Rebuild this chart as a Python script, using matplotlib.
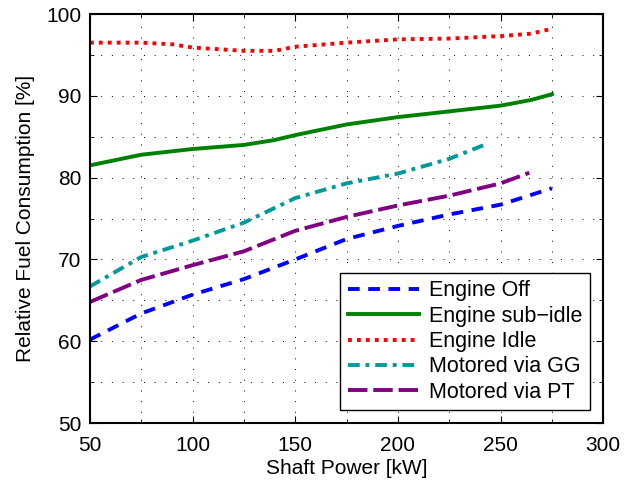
import matplotlib
matplotlib.use("Agg")
import matplotlib.pyplot as plt
from matplotlib.ticker import MultipleLocator

plt.rcParams["font.family"] = ["Liberation Sans", "DejaVu Sans"]

# ==========================================================
# Data
# ==========================================================

off_x = [50, 75, 100, 125, 150, 175, 200, 225, 250, 275]
off_y = [60.2, 63.4, 65.7, 67.6, 70.0, 72.5, 74.1, 75.5, 76.7, 78.7]

sub_x = [50, 75, 100, 125, 140, 150, 175, 200, 225, 250, 265, 275]
sub_y = [81.5, 82.8, 83.5, 84.0, 84.6, 85.2, 86.5, 87.4, 88.1, 88.8, 89.5, 90.2]

idle_x = [50, 75, 90, 100, 125, 140, 150, 175, 200, 225, 250, 265, 275]
idle_y = [96.5, 96.5, 96.3, 95.9, 95.5, 95.5, 96.0, 96.5, 96.9, 97.0, 97.3, 97.6, 98.2]

gg_x = [50, 75, 100, 125, 140, 150, 175, 200, 225, 242]
gg_y = [66.7, 70.3, 72.3, 74.5, 76.3, 77.5, 79.3, 80.5, 82.3, 84.0]

pt_x = [50, 75, 100, 125, 150, 175, 200, 225, 250, 264]
pt_y = [64.8, 67.5, 69.3, 71.0, 73.5, 75.2, 76.6, 77.8, 79.3, 80.6]

labels = ["Engine Off", "Engine sub\u2212idle", "Engine Idle",
          "Motored via GG", "Motored via PT"]

# ==========================================================
# Figure
# ==========================================================

fig = plt.figure(figsize=(6.33, 4.83), dpi=100)
ax = fig.add_axes([0.142, 0.124, 0.811, 0.847])

lw = 2.8
ax.plot(off_x, off_y, color="#0000ff", lw=lw, linestyle=(0, (3, 2.2)), label=labels[0])
ax.plot(sub_x, sub_y, color="#008000", lw=lw, linestyle="-", label=labels[1])
ax.plot(idle_x, idle_y, color="#ff0000", lw=lw, linestyle=(0, (1, 1.3)), label=labels[2])
ax.plot(gg_x, gg_y, color="#009999", lw=lw, linestyle=(0, (3, 1.5, 1, 1.5)), label=labels[3])
ax.plot(pt_x, pt_y, color="#800080", lw=lw, linestyle=(0, (5, 1.5)), label=labels[4])

ax.set_xlim(50, 300)
ax.set_ylim(50, 100)
ax.xaxis.set_major_locator(MultipleLocator(50))
ax.xaxis.set_minor_locator(MultipleLocator(25))
ax.yaxis.set_major_locator(MultipleLocator(10))
ax.yaxis.set_minor_locator(MultipleLocator(5))

ax.grid(True, which="both", color="black", linestyle=(0, (1, 10)), linewidth=0.7)
ax.tick_params(which="both", direction="in", top=True, right=True,
               labelsize=15, pad=6)
ax.tick_params(axis="x", which="both", pad=9)
ax.tick_params(which="major", length=5)
ax.tick_params(which="minor", length=3)
for s in ax.spines.values():
    s.set_linewidth(1.5)

ax.set_xlabel("Shaft Power [kW]", fontsize=15, labelpad=3)
ax.set_ylabel("Relative Fuel Consumption [%]", fontsize=15, labelpad=8)

leg = ax.legend(loc="lower right", fontsize=15.5, fancybox=False,
                edgecolor="black", framealpha=1, handlelength=3.3,
                borderpad=0.35, labelspacing=0.2, handletextpad=0.5,
                borderaxespad=0.6)
leg.get_frame().set_linewidth(1.0)

fig.savefig("out.png", dpi=100)
